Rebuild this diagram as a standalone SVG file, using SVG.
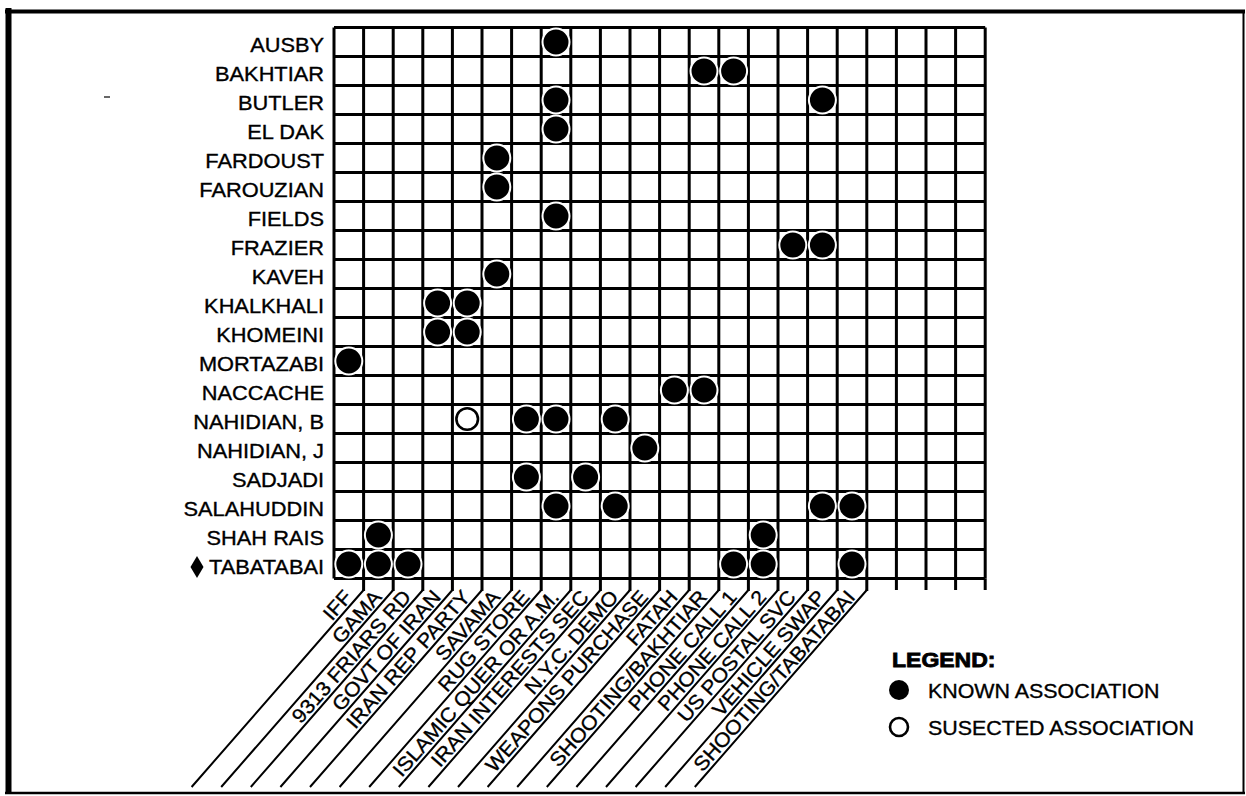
<svg xmlns="http://www.w3.org/2000/svg" width="1246" height="796" viewBox="0 0 1246 796">
<style>
text{font-family:"Liberation Sans",Arial,Helvetica,sans-serif;font-size:20px;fill:#000;stroke:#000;stroke-width:0.35}
.rl{text-anchor:end}
.cl{text-anchor:end}
.grid{fill:none;stroke:#000;stroke-width:3}
.diag{fill:none;stroke:#000;stroke-width:2;stroke-linejoin:round}
.tick{fill:none;stroke:#000;stroke-width:3}
.k{fill:#000;stroke:#fff;stroke-width:2}
.s{fill:#fff;stroke:#000;stroke-width:2.6}
.frame{fill:none;stroke:#000}
.lg{font-weight:bold;stroke-width:0.8}
</style>
<rect width="1246" height="796" fill="#fff"/>
<g id="frame">
<line class="frame" x1="8.5" y1="8" x2="8.5" y2="794" stroke-width="6"/>
<line class="frame" x1="5" y1="11.5" x2="1245" y2="11.5" stroke-width="4"/>
<line class="frame" x1="1243.5" y1="10" x2="1243.5" y2="794" stroke-width="2"/>
<line class="frame" x1="5" y1="793" x2="1245" y2="793" stroke-width="2.5"/>
<line x1="104" y1="97" x2="110" y2="97" stroke="#000" stroke-width="1.2"/>
</g>
<g id="grid">
<path class="grid" d="M334 27.5H985.2M334 56.5H985.2M334 85.5H985.2M334 114.5H985.2M334 143.5H985.2M334 172.5H985.2M334 201.5H985.2M334 230.5H985.2M334 259.5H985.2M334 288.5H985.2M334 317.5H985.2M334 346.5H985.2M334 375.5H985.2M334 404.5H985.2M334 433.5H985.2M334 462.5H985.2M334 491.5H985.2M334 520.5H985.2M334 549.5H985.2M334 578.5H985.2"/>
<path class="grid" d="M334 27.5V578.5M363.6 27.5V578.5M393.2 27.5V578.5M422.8 27.5V578.5M452.4 27.5V578.5M482 27.5V578.5M511.6 27.5V578.5M541.2 27.5V578.5M570.8 27.5V578.5M600.4 27.5V578.5M630 27.5V578.5M659.6 27.5V578.5M689.2 27.5V578.5M718.8 27.5V578.5M748.4 27.5V578.5M778 27.5V578.5M807.6 27.5V578.5M837.2 27.5V578.5M866.8 27.5V578.5M896.4 27.5V578.5M926 27.5V578.5M955.6 27.5V578.5M985.2 27.5V578.5"/>
</g>
<g id="connectors">
<path class="tick" d="M363.6 578.5V591M393.2 578.5V591M422.8 578.5V591M452.4 578.5V591M482 578.5V591M511.6 578.5V591M541.2 578.5V591M570.8 578.5V591M600.4 578.5V591M630 578.5V591M659.6 578.5V591M689.2 578.5V591M718.8 578.5V591M748.4 578.5V591M778 578.5V591M807.6 578.5V591M837.2 578.5V591M866.8 578.5V591M896.4 578.5V590M926 578.5V590M955.6 578.5V590M985.2 578.5V590"/>
<path class="diag" d="M363.6 590L191.6 787M393.2 590L221.2 787M422.8 590L250.8 787M452.4 590L280.4 787M482 590L310 787M511.6 590L339.6 787M541.2 590L369.2 787M570.8 590L398.8 787M600.4 590L428.4 787M630 590L458 787M659.6 590L487.6 787M689.2 590L517.2 787M718.8 590L546.8 787M748.4 590L576.4 787M778 590L606 787M807.6 590L635.6 787M837.2 590L665.2 787M866.8 590L694.8 787"/>
</g>
<g id="row-labels">
<g transform="translate(324 0) scale(1.09 1)">
<text class="rl" x="0" y="52">AUSBY</text>
<text class="rl" x="0" y="81">BAKHTIAR</text>
<text class="rl" x="0" y="110">BUTLER</text>
<text class="rl" x="0" y="139">EL DAK</text>
<text class="rl" x="0" y="168">FARDOUST</text>
<text class="rl" x="0" y="197">FAROUZIAN</text>
<text class="rl" x="0" y="226">FIELDS</text>
<text class="rl" x="0" y="255">FRAZIER</text>
<text class="rl" x="0" y="284">KAVEH</text>
<text class="rl" x="0" y="313">KHALKHALI</text>
<text class="rl" x="0" y="342">KHOMEINI</text>
<text class="rl" x="0" y="371">MORTAZABI</text>
<text class="rl" x="0" y="400">NACCACHE</text>
<text class="rl" x="0" y="429">NAHIDIAN, B</text>
<text class="rl" x="0" y="458">NAHIDIAN, J</text>
<text class="rl" x="0" y="487">SADJADI</text>
<text class="rl" x="0" y="516">SALAHUDDIN</text>
<text class="rl" x="0" y="545">SHAH RAIS</text>
<text class="rl" x="0" y="574">TABATABAI</text>
</g>
<polygon points="197,556 203.5,567 197,578 190.5,567" fill="#000"/>
</g>
<g id="column-labels">
<text class="cl" transform="translate(353.05 597.7) rotate(-48.7) scale(1.07 1)">IFF</text>
<text class="cl" transform="translate(382.65 597.7) rotate(-48.7) scale(1.07 1)">GAMA</text>
<text class="cl" transform="translate(412.25 597.7) rotate(-48.7) scale(1.07 1)">9313 FRIARS RD</text>
<text class="cl" transform="translate(441.85 597.7) rotate(-48.7) scale(1.07 1)">GOVT OF IRAN</text>
<text class="cl" transform="translate(471.45 597.7) rotate(-48.7) scale(1.07 1)">IRAN REP PARTY</text>
<text class="cl" transform="translate(501.05 597.7) rotate(-48.7) scale(1.07 1)">SAVAMA</text>
<text class="cl" transform="translate(530.65 597.7) rotate(-48.7) scale(1.07 1)">RUG STORE</text>
<text class="cl" transform="translate(560.25 597.7) rotate(-48.7) scale(1.07 1)">ISLAMIC QUER OR A.M.</text>
<text class="cl" transform="translate(589.85 597.7) rotate(-48.7) scale(1.07 1)">IRAN INTERESTS SEC</text>
<text class="cl" transform="translate(619.45 597.7) rotate(-48.7) scale(1.07 1)">N.Y.C. DEMO</text>
<text class="cl" transform="translate(649.05 597.7) rotate(-48.7) scale(1.07 1)">WEAPONS PURCHASE</text>
<text class="cl" transform="translate(678.65 597.7) rotate(-48.7) scale(1.07 1)">FATAH</text>
<text class="cl" transform="translate(708.25 597.7) rotate(-48.7) scale(1.07 1)">SHOOTING/BAKHTIAR</text>
<text class="cl" transform="translate(737.85 597.7) rotate(-48.7) scale(1.07 1)">PHONE CALL 1</text>
<text class="cl" transform="translate(767.45 597.7) rotate(-48.7) scale(1.07 1)">PHONE CALL 2</text>
<text class="cl" transform="translate(797.05 597.7) rotate(-48.7) scale(1.07 1)">US POSTAL SVC</text>
<text class="cl" transform="translate(826.65 597.7) rotate(-48.7) scale(1.07 1)">VEHICLE SWAP</text>
<text class="cl" transform="translate(856.25 597.7) rotate(-48.7) scale(1.07 1)">SHOOTING/TABATABAI</text>
</g>
<g id="associations">
<circle class="k" cx="556" cy="42" r="13.5"/>
<circle class="k" cx="704" cy="71" r="13.5"/>
<circle class="k" cx="733.6" cy="71" r="13.5"/>
<circle class="k" cx="556" cy="100" r="13.5"/>
<circle class="k" cx="822.4" cy="100" r="13.5"/>
<circle class="k" cx="556" cy="129" r="13.5"/>
<circle class="k" cx="496.8" cy="158" r="13.5"/>
<circle class="k" cx="496.8" cy="187" r="13.5"/>
<circle class="k" cx="556" cy="216" r="13.5"/>
<circle class="k" cx="792.8" cy="245" r="13.5"/>
<circle class="k" cx="822.4" cy="245" r="13.5"/>
<circle class="k" cx="496.8" cy="274" r="13.5"/>
<circle class="k" cx="437.6" cy="303" r="13.5"/>
<circle class="k" cx="467.2" cy="303" r="13.5"/>
<circle class="k" cx="437.6" cy="332" r="13.5"/>
<circle class="k" cx="467.2" cy="332" r="13.5"/>
<circle class="k" cx="348.8" cy="361" r="13.5"/>
<circle class="k" cx="674.4" cy="390" r="13.5"/>
<circle class="k" cx="704" cy="390" r="13.5"/>
<circle class="s" cx="467.2" cy="419" r="10.8"/>
<circle class="k" cx="526.4" cy="419" r="13.5"/>
<circle class="k" cx="556" cy="419" r="13.5"/>
<circle class="k" cx="615.2" cy="419" r="13.5"/>
<circle class="k" cx="644.8" cy="448" r="13.5"/>
<circle class="k" cx="526.4" cy="477" r="13.5"/>
<circle class="k" cx="585.6" cy="477" r="13.5"/>
<circle class="k" cx="556" cy="506" r="13.5"/>
<circle class="k" cx="615.2" cy="506" r="13.5"/>
<circle class="k" cx="822.4" cy="506" r="13.5"/>
<circle class="k" cx="852" cy="506" r="13.5"/>
<circle class="k" cx="378.4" cy="535" r="13.5"/>
<circle class="k" cx="763.2" cy="535" r="13.5"/>
<circle class="k" cx="348.8" cy="564" r="13.5"/>
<circle class="k" cx="378.4" cy="564" r="13.5"/>
<circle class="k" cx="408" cy="564" r="13.5"/>
<circle class="k" cx="733.6" cy="564" r="13.5"/>
<circle class="k" cx="763.2" cy="564" r="13.5"/>
<circle class="k" cx="852" cy="564" r="13.5"/>
</g>
<g id="legend">
<text class="lg" transform="translate(892 667) scale(1.15 1)">LEGEND:</text>
<circle cx="899" cy="690" r="10" fill="#000"/>
<text transform="translate(928 698) scale(1.07 1)">KNOWN ASSOCIATION</text>
<circle cx="899" cy="727" r="9" fill="#fff" stroke="#000" stroke-width="2.6"/>
<text transform="translate(928 734.5) scale(1.07 1)">SUSECTED ASSOCIATION</text>
</g>
</svg>
